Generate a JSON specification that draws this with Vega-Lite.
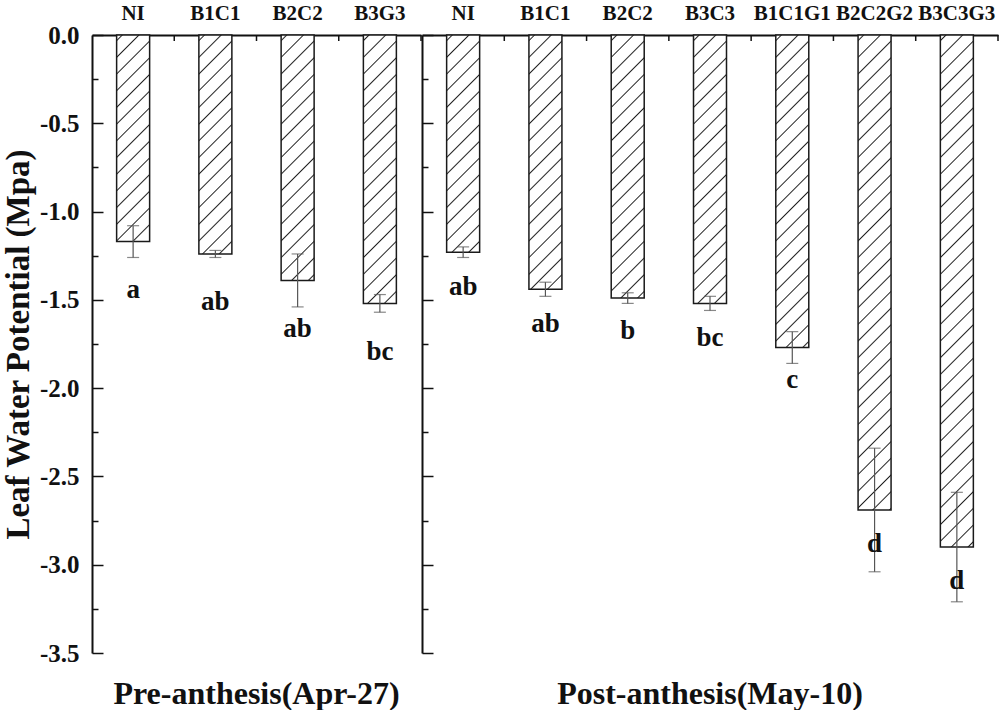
{
  "$schema": "https://vega.github.io/schema/vega-lite/v6.json",
  "background": "white",
  "padding": {"left": 2, "top": 2, "right": 2, "bottom": 0},
  "spacing": -2,
  "params": [
    {"name": "hatch", "value": [
      {"offset":0.0075,"color":"#fff"},{"offset":0.0100,"color":"#222"},{"offset":0.0125,"color":"#fff"},
      {"offset":0.0370,"color":"#fff"},{"offset":0.0395,"color":"#222"},{"offset":0.0420,"color":"#fff"},
      {"offset":0.0665,"color":"#fff"},{"offset":0.0690,"color":"#222"},{"offset":0.0715,"color":"#fff"},
      {"offset":0.0960,"color":"#fff"},{"offset":0.0985,"color":"#222"},{"offset":0.1010,"color":"#fff"},
      {"offset":0.1255,"color":"#fff"},{"offset":0.1280,"color":"#222"},{"offset":0.1305,"color":"#fff"},
      {"offset":0.1550,"color":"#fff"},{"offset":0.1575,"color":"#222"},{"offset":0.1600,"color":"#fff"},
      {"offset":0.1845,"color":"#fff"},{"offset":0.1870,"color":"#222"},{"offset":0.1895,"color":"#fff"},
      {"offset":0.2140,"color":"#fff"},{"offset":0.2165,"color":"#222"},{"offset":0.2190,"color":"#fff"},
      {"offset":0.2435,"color":"#fff"},{"offset":0.2460,"color":"#222"},{"offset":0.2485,"color":"#fff"},
      {"offset":0.2730,"color":"#fff"},{"offset":0.2755,"color":"#222"},{"offset":0.2780,"color":"#fff"},
      {"offset":0.3025,"color":"#fff"},{"offset":0.3050,"color":"#222"},{"offset":0.3075,"color":"#fff"},
      {"offset":0.3320,"color":"#fff"},{"offset":0.3345,"color":"#222"},{"offset":0.3370,"color":"#fff"},
      {"offset":0.3615,"color":"#fff"},{"offset":0.3640,"color":"#222"},{"offset":0.3665,"color":"#fff"},
      {"offset":0.3910,"color":"#fff"},{"offset":0.3935,"color":"#222"},{"offset":0.3960,"color":"#fff"},
      {"offset":0.4205,"color":"#fff"},{"offset":0.4230,"color":"#222"},{"offset":0.4255,"color":"#fff"},
      {"offset":0.4500,"color":"#fff"},{"offset":0.4525,"color":"#222"},{"offset":0.4550,"color":"#fff"},
      {"offset":0.4795,"color":"#fff"},{"offset":0.4820,"color":"#222"},{"offset":0.4845,"color":"#fff"},
      {"offset":0.5090,"color":"#fff"},{"offset":0.5115,"color":"#222"},{"offset":0.5140,"color":"#fff"},
      {"offset":0.5385,"color":"#fff"},{"offset":0.5410,"color":"#222"},{"offset":0.5435,"color":"#fff"},
      {"offset":0.5680,"color":"#fff"},{"offset":0.5705,"color":"#222"},{"offset":0.5730,"color":"#fff"},
      {"offset":0.5975,"color":"#fff"},{"offset":0.6000,"color":"#222"},{"offset":0.6025,"color":"#fff"},
      {"offset":0.6270,"color":"#fff"},{"offset":0.6295,"color":"#222"},{"offset":0.6320,"color":"#fff"},
      {"offset":0.6565,"color":"#fff"},{"offset":0.6590,"color":"#222"},{"offset":0.6615,"color":"#fff"},
      {"offset":0.6860,"color":"#fff"},{"offset":0.6885,"color":"#222"},{"offset":0.6910,"color":"#fff"},
      {"offset":0.7155,"color":"#fff"},{"offset":0.7180,"color":"#222"},{"offset":0.7205,"color":"#fff"},
      {"offset":0.7450,"color":"#fff"},{"offset":0.7475,"color":"#222"},{"offset":0.7500,"color":"#fff"},
      {"offset":0.7745,"color":"#fff"},{"offset":0.7770,"color":"#222"},{"offset":0.7795,"color":"#fff"},
      {"offset":0.8040,"color":"#fff"},{"offset":0.8065,"color":"#222"},{"offset":0.8090,"color":"#fff"},
      {"offset":0.8335,"color":"#fff"},{"offset":0.8360,"color":"#222"},{"offset":0.8385,"color":"#fff"},
      {"offset":0.8630,"color":"#fff"},{"offset":0.8655,"color":"#222"},{"offset":0.8680,"color":"#fff"},
      {"offset":0.8925,"color":"#fff"},{"offset":0.8950,"color":"#222"},{"offset":0.8975,"color":"#fff"},
      {"offset":0.9220,"color":"#fff"},{"offset":0.9245,"color":"#222"},{"offset":0.9270,"color":"#fff"},
      {"offset":0.9515,"color":"#fff"},{"offset":0.9540,"color":"#222"},{"offset":0.9565,"color":"#fff"},
      {"offset":0.9810,"color":"#fff"},{"offset":0.9835,"color":"#222"},{"offset":0.9860,"color":"#fff"}
    ]}
  ],
  "datasets": {
    "pre": [
      {"cat": "NI", "mean": -1.17, "err": 0.09, "letter": "a", "labelAt": -1.49},
      {"cat": "B1C1", "mean": -1.24, "err": 0.02, "letter": "ab", "labelAt": -1.56},
      {"cat": "B2C2", "mean": -1.39, "err": 0.15, "letter": "ab", "labelAt": -1.71},
      {"cat": "B3G3", "mean": -1.52, "err": 0.05, "letter": "bc", "labelAt": -1.84}
    ],
    "post": [
      {"cat": "NI", "mean": -1.23, "err": 0.03, "letter": "ab", "labelAt": -1.47},
      {"cat": "B1C1", "mean": -1.44, "err": 0.04, "letter": "ab", "labelAt": -1.68},
      {"cat": "B2C2", "mean": -1.49, "err": 0.03, "letter": "b", "labelAt": -1.72},
      {"cat": "B3C3", "mean": -1.52, "err": 0.04, "letter": "bc", "labelAt": -1.76},
      {"cat": "B1C1G1", "mean": -1.77, "err": 0.09, "letter": "c", "labelAt": -2.0},
      {"cat": "B2C2G2", "mean": -2.69, "err": 0.35, "letter": "d", "labelAt": -2.93},
      {"cat": "B3C3G3", "mean": -2.90, "err": 0.31, "letter": "d", "labelAt": -3.14}
    ]
  },
  "hconcat": [
    {
      "width": 329,
      "height": 618,
      "data": {"name": "pre"},
      "title": {"text": "Pre-anthesis(Apr-27)", "orient": "bottom", "anchor": "middle", "font": "Liberation Serif", "fontSize": 32, "fontWeight": "bold", "color": "#111", "offset": 13},
      "encoding": {
        "x": {"field": "cat", "type": "nominal", "sort": null,
          "scale": {"paddingInner": 0, "paddingOuter": 0},
          "axis": {"orient": "top", "title": null, "labelAngle": 0, "labelFont": "Liberation Serif", "labelFontSize": 21, "labelFontWeight": "bold", "labelColor": "#111", "labelPadding": 23, "tickSize": -11, "tickWidth": 1.5, "tickColor": "#111", "domainColor": "#111", "domainWidth": 2, "grid": false}}
      },
      "layer": [
        {
          "mark": {"type": "bar", "width": 33, "stroke": "#1a1a1a", "strokeWidth": 1.5,
            "fill": {"expr": "{gradient: 'linear', x1: 0, y1: 0, x2: 565.7*33/(1089 + pow(176.57*datum.mean, 2)), y2: 565.7*(-176.57*datum.mean)/(1089 + pow(176.57*datum.mean, 2)), stops: hatch}"}},
          "encoding": {
            "y": {"field": "mean", "type": "quantitative", "title": "Leaf Water Potential (Mpa)",
              "scale": {"domain": [-3.5, 0], "nice": false, "zero": false},
              "axis": {"orient": "left", "title": "Leaf Water Potential (Mpa)",
                "values": [0, -0.25, -0.5, -0.75, -1, -1.25, -1.5, -1.75, -2, -2.25, -2.5, -2.75, -3, -3.25, -3.5],
                "labelExpr": "abs(datum.value % 0.5) > 0.01 ? '' : (datum.value < 0 ? '-' : '') + format(abs(datum.value), '.1f')",
                "labelOverlap": false, "labelFlush": false,
                "labelFont": "Liberation Serif", "labelFontSize": 25, "labelFontWeight": "bold", "labelColor": "#111", "labelPadding": 24,
                "tickSize": {"condition": {"test": "abs(datum.value % 0.5) > 0.01", "value": -6}, "value": -11},
                "tickWidth": 1.5, "tickColor": "#111", "domainColor": "#111", "domainWidth": 2, "grid": false,
                "titleFont": "Liberation Serif", "titleFontSize": 33, "titleFontWeight": "bold", "titleColor": "#111", "titlePadding": 4}}
          }
        },
        {
          "mark": {"type": "errorbar", "color": "#555", "thickness": 1.2, "ticks": {"size": 12}},
          "encoding": {
            "y": {"field": "mean", "type": "quantitative", "title": "Leaf Water Potential (Mpa)"},
            "yError": {"field": "err"}
          }
        },
        {
          "mark": {"type": "rule", "color": "#111", "strokeWidth": 1.5},
          "encoding": {
            "x": {"field": "cat", "type": "nominal", "sort": null, "bandPosition": 1},
            "y": {"datum": 0},
            "y2": {"datum": -0.034}
          }
        },
        {
          "mark": {"type": "text", "font": "Liberation Serif", "fontSize": 27, "fontWeight": "bold", "baseline": "alphabetic", "color": "#111"},
          "encoding": {
            "y": {"field": "labelAt", "type": "quantitative", "title": "Leaf Water Potential (Mpa)"},
            "text": {"field": "letter"}
          }
        }
      ]
    },
    {
      "width": 576,
      "height": 618,
      "data": {"name": "post"},
      "title": {"text": "Post-anthesis(May-10)", "orient": "bottom", "anchor": "middle", "font": "Liberation Serif", "fontSize": 32, "fontWeight": "bold", "color": "#111", "offset": 25},
      "encoding": {
        "x": {"field": "cat", "type": "nominal", "sort": null,
          "scale": {"paddingInner": 0, "paddingOuter": 0},
          "axis": {"orient": "top", "title": null, "labelAngle": 0, "labelFont": "Liberation Serif", "labelFontSize": 21, "labelFontWeight": "bold", "labelColor": "#111", "labelPadding": 23, "tickSize": -11, "tickWidth": 1.5, "tickColor": "#111", "domainColor": "#111", "domainWidth": 2, "grid": false}}
      },
      "layer": [
        {
          "mark": {"type": "bar", "width": 33, "stroke": "#1a1a1a", "strokeWidth": 1.5,
            "fill": {"expr": "{gradient: 'linear', x1: 0, y1: 0, x2: 565.7*33/(1089 + pow(176.57*datum.mean, 2)), y2: 565.7*(-176.57*datum.mean)/(1089 + pow(176.57*datum.mean, 2)), stops: hatch}"}},
          "encoding": {
            "y": {"field": "mean", "type": "quantitative",
              "scale": {"domain": [-3.5, 0], "nice": false, "zero": false},
              "axis": {"orient": "left", "title": null, "labels": false,
                "values": [0, -0.25, -0.5, -0.75, -1, -1.25, -1.5, -1.75, -2, -2.25, -2.5, -2.75, -3, -3.25, -3.5],
                "tickSize": {"condition": {"test": "abs(datum.value % 0.5) > 0.01", "value": -6}, "value": -11},
                "tickWidth": 1.5, "tickColor": "#111", "domainColor": "#111", "domainWidth": 2, "grid": false}}
          }
        },
        {
          "mark": {"type": "errorbar", "color": "#555", "thickness": 1.2, "ticks": {"size": 12}},
          "encoding": {
            "y": {"field": "mean", "type": "quantitative"},
            "yError": {"field": "err"}
          }
        },
        {
          "mark": {"type": "rule", "color": "#111", "strokeWidth": 1.5},
          "encoding": {
            "x": {"field": "cat", "type": "nominal", "sort": null, "bandPosition": 1},
            "y": {"datum": 0},
            "y2": {"datum": -0.034}
          }
        },
        {
          "mark": {"type": "text", "font": "Liberation Serif", "fontSize": 27, "fontWeight": "bold", "baseline": "alphabetic", "color": "#111"},
          "encoding": {
            "y": {"field": "labelAt", "type": "quantitative"},
            "text": {"field": "letter"}
          }
        }
      ]
    }
  ],
  "config": {"view": {"stroke": null}}
}
